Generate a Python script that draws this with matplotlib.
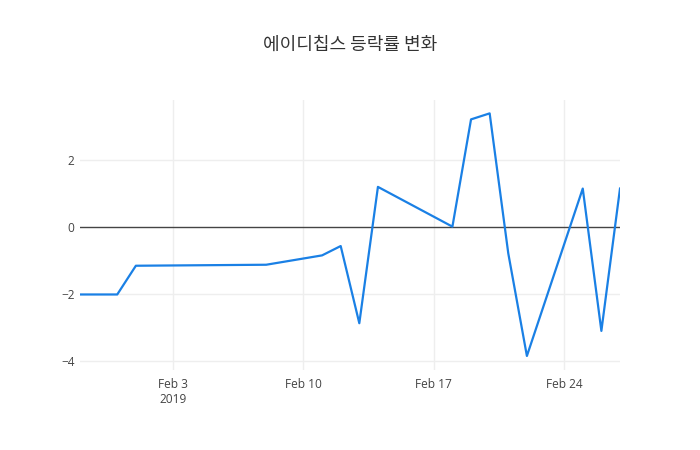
import numpy as np
import matplotlib.pyplot as plt

plt.rcParams['font.family'] = ['Open Sans', 'Noto Sans CJK KR', 'DejaVu Sans']

dates = ['2019-01-29', '2019-01-31', '2019-02-01', '2019-02-08', '2019-02-11',
         '2019-02-12', '2019-02-13', '2019-02-14', '2019-02-18', '2019-02-19',
         '2019-02-20', '2019-02-21', '2019-02-22', '2019-02-25', '2019-02-26',
         '2019-02-27']
changes = [-2.02, -2.02, -1.16, -1.13, -0.85, -0.57, -2.88, 1.20, 0.01, 3.22,
           3.40, -0.79, -3.86, 1.15, -3.11, 1.15]
xtick_dates = ['2019-02-03', '2019-02-10', '2019-02-17', '2019-02-24']
xtick_labels = ['Feb 3\n2019', 'Feb 10', 'Feb 17', 'Feb 24']
yticks = [-4, -2, 0, 2]

x = np.array(dates, dtype='datetime64[D]')
fig = plt.figure(figsize=(7, 4.5), dpi=100)
ax = fig.add_axes([80/700, 80/450, 540/700, 270/450])

for y in yticks:
    if y != 0:
        ax.axhline(y, color='#eeeeee', lw=1, zorder=0)
for d in xtick_dates:
    ax.axvline(np.datetime64(d), color='#eeeeee', lw=1, zorder=0)
ax.axhline(0, color='#444444', lw=1, zorder=1)

ax.plot(x, changes, color='#1a80e5', lw=1.6, zorder=2)

ax.set_xlim(x[0], x[-1])
ax.set_ylim(-4.28, 3.80)
ax.set_xticks(np.array(xtick_dates, dtype='datetime64[D]'))
ax.set_xticklabels(xtick_labels)
ax.set_yticks(yticks)
ax.set_yticklabels(['\u22124', '\u22122', '0', '2'])
ax.tick_params(length=0, labelsize=8.6, labelcolor='#444444')
ax.tick_params(axis='x', pad=6)
ax.tick_params(axis='y', pad=4)
for s in ax.spines.values():
    s.set_visible(False)

# title
fig.text(0.5, 1 - 45/450, '에이디칩스 등락률 변화', ha='center', va='center',
         fontsize=13, color='#333333', family=['Noto Sans CJK KR', 'DejaVu Sans'])

fig.savefig('out.png', dpi=100)
